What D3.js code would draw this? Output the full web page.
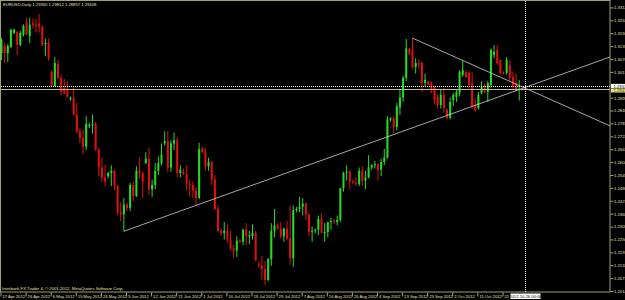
<!DOCTYPE html>
<html>
<head>
<meta charset="utf-8">
<script src="https://cdn.jsdelivr.net/npm/d3@7"></script>
<style>
  html, body { margin: 0; padding: 0; background: #000; overflow: hidden; }
  svg { display: block; }
  .axis text { font-family: "Liberation Sans", Arial, sans-serif; font-size: 4.2px; fill: #e0e0a8; }
  .axis line { stroke: #a8a878; }
  .lbl { font-family: "Liberation Sans", Arial, sans-serif; font-size: 4.2px; }
</style>
</head>
<body>
<svg id="CHART" width="625" height="300"></svg>
<script>
let d3 = window.d3;

// EURUSD daily bars, 17 Apr 2012 .. 26 Oct 2012 (broker has sunday bars)
const opens = [
  1.3104, 1.3135, 1.3104, 1.3132, 1.3196, 1.3200, 1.3141, 1.3187, 1.3245, 1.3182,
  1.3240, 1.3233, 1.3238, 1.3225, 1.3145, 1.3150, 1.3017, 1.2953, 1.3054, 1.2990,
  1.2944, 1.2935, 1.2894, 1.2898, 1.2820, 1.2745, 1.2715, 1.2675, 1.2770, 1.2775,
  1.2780, 1.2660, 1.2580, 1.2535, 1.2540, 1.2555, 1.2565, 1.2495, 1.2375, 1.2365,
  1.2410, 1.2395, 1.2500, 1.2450, 1.2565, 1.2555, 1.2600, 1.2620, 1.2480, 1.2500,
  1.2565, 1.2600, 1.2690, 1.2700, 1.2580, 1.2690, 1.2705, 1.2555, 1.2560, 1.2550,
  1.2505, 1.2500, 1.2475, 1.2440, 1.2665, 1.2650, 1.2585, 1.2605, 1.2525, 1.2390,
  1.2290, 1.2280, 1.2290, 1.2250, 1.2210, 1.2200, 1.2245, 1.2240, 1.2295, 1.2265,
  1.2265, 1.2280, 1.2135, 1.2130, 1.2115, 1.2065, 1.2160, 1.2290, 1.2315, 1.2300,
  1.2265, 1.2300, 1.2255, 1.2165, 1.2385, 1.2390, 1.2400, 1.2415, 1.2365, 1.2285,
  1.2290, 1.2295, 1.2345, 1.2280, 1.2285, 1.2330, 1.2335, 1.2330, 1.2340, 1.2485,
  1.2555, 1.2560, 1.2515, 1.2510, 1.2505, 1.2565, 1.2520, 1.2535, 1.2580, 1.2590,
  1.2595, 1.2570, 1.2605, 1.2625, 1.2800, 1.2805, 1.2765, 1.2855, 1.2900, 1.2990,
  1.3123, 1.3118, 1.3040, 1.3058, 1.3058, 1.2967, 1.2971, 1.2967, 1.2949, 1.2903,
  1.2866, 1.2912, 1.2843, 1.2807, 1.2889, 1.2903, 1.2921, 1.3004, 1.3017, 1.3013,
  1.2967, 1.2866, 1.2852, 1.2921, 1.2958, 1.2926, 1.2958, 1.3095, 1.3118, 1.3072,
  1.3013, 1.3013, 1.3050, 1.2994, 1.2967, 1.2935
];
const highs = [
  1.3173, 1.3150, 1.3145, 1.3215, 1.3215, 1.3205, 1.3205, 1.3235, 1.3265, 1.3265,
  1.3262, 1.3262, 1.3283, 1.3230, 1.3170, 1.3170, 1.3025, 1.3085, 1.3073, 1.3005,
  1.2985, 1.2975, 1.2905, 1.2950, 1.2875, 1.2760, 1.2752, 1.2815, 1.2785, 1.2823,
  1.2790, 1.2670, 1.2625, 1.2592, 1.2560, 1.2590, 1.2570, 1.2500, 1.2420, 1.2440,
  1.2420, 1.2510, 1.2515, 1.2585, 1.2625, 1.2560, 1.2650, 1.2670, 1.2525, 1.2600,
  1.2630, 1.2690, 1.2745, 1.2747, 1.2705, 1.2740, 1.2720, 1.2590, 1.2575, 1.2590,
  1.2525, 1.2515, 1.2490, 1.2693, 1.2675, 1.2670, 1.2625, 1.2610, 1.2545, 1.2405,
  1.2300, 1.2330, 1.2320, 1.2290, 1.2225, 1.2265, 1.2255, 1.2300, 1.2325, 1.2290,
  1.2320, 1.2290, 1.2150, 1.2175, 1.2150, 1.2166, 1.2325, 1.2390, 1.2325, 1.2330,
  1.2305, 1.2335, 1.2405, 1.2405, 1.2400, 1.2445, 1.2440, 1.2420, 1.2370, 1.2310,
  1.2300, 1.2360, 1.2370, 1.2325, 1.2330, 1.2350, 1.2345, 1.2360, 1.2485, 1.2560,
  1.2590, 1.2570, 1.2525, 1.2535, 1.2580, 1.2585, 1.2565, 1.2636, 1.2595, 1.2610,
  1.2600, 1.2620, 1.2665, 1.2815, 1.2810, 1.2815, 1.2875, 1.2935, 1.3000, 1.3168,
  1.3128, 1.3172, 1.3080, 1.3075, 1.3065, 1.3010, 1.2978, 1.2975, 1.2955, 1.2915,
  1.2935, 1.2945, 1.2850, 1.2900, 1.2920, 1.2935, 1.3025, 1.3070, 1.3025, 1.3020,
  1.3015, 1.2895, 1.2925, 1.2975, 1.2962, 1.2975, 1.3125, 1.3140, 1.3140, 1.3075,
  1.3020, 1.3085, 1.3070, 1.3020, 1.3010, 1.2981
];
const lows = [
  1.3072, 1.3058, 1.3063, 1.3127, 1.3190, 1.3095, 1.3135, 1.3180, 1.3185, 1.3150,
  1.3215, 1.3200, 1.3197, 1.3135, 1.3090, 1.3068, 1.2950, 1.2950, 1.2985, 1.2912,
  1.2915, 1.2900, 1.2885, 1.2820, 1.2735, 1.2690, 1.2640, 1.2660, 1.2760, 1.2735,
  1.2656, 1.2540, 1.2515, 1.2495, 1.2530, 1.2495, 1.2475, 1.2360, 1.2334, 1.2288,
  1.2380, 1.2380, 1.2425, 1.2445, 1.2530, 1.2440, 1.2595, 1.2455, 1.2445, 1.2480,
  1.2545, 1.2590, 1.2680, 1.2560, 1.2560, 1.2660, 1.2535, 1.2535, 1.2545, 1.2475,
  1.2445, 1.2440, 1.2405, 1.2436, 1.2645, 1.2565, 1.2565, 1.2500, 1.2385, 1.2285,
  1.2270, 1.2250, 1.2235, 1.2200, 1.2165, 1.2170, 1.2235, 1.2225, 1.2225, 1.2230,
  1.2250, 1.2150, 1.2120, 1.2067, 1.2042, 1.2060, 1.2130, 1.2260, 1.2295, 1.2255,
  1.2240, 1.2245, 1.2135, 1.2125, 1.2375, 1.2375, 1.2360, 1.2340, 1.2265, 1.2240,
  1.2280, 1.2270, 1.2280, 1.2240, 1.2260, 1.2295, 1.2320, 1.2315, 1.2330, 1.2470,
  1.2520, 1.2480, 1.2505, 1.2495, 1.2495, 1.2495, 1.2480, 1.2530, 1.2570, 1.2575,
  1.2520, 1.2540, 1.2590, 1.2620, 1.2790, 1.2740, 1.2750, 1.2820, 1.2880, 1.2975,
  1.3095, 1.3030, 1.3010, 1.3030, 1.2925, 1.2950, 1.2955, 1.2920, 1.2870, 1.2850,
  1.2850, 1.2829, 1.2800, 1.2800, 1.2860, 1.2880, 1.2905, 1.2995, 1.2990, 1.2945,
  1.2850, 1.2835, 1.2845, 1.2915, 1.2920, 1.2880, 1.2945, 1.3080, 1.3050, 1.3005,
  1.3005, 1.3005, 1.2975, 1.2940, 1.2925, 1.2886
];
const closes = [
  1.3164, 1.3104, 1.3136, 1.3210, 1.3210, 1.3141, 1.3196, 1.3228, 1.3190, 1.3233,
  1.3232, 1.3228, 1.3225, 1.3141, 1.3150, 1.3080, 1.2953, 1.3058, 1.2990, 1.2926,
  1.2921, 1.2903, 1.2898, 1.2820, 1.2745, 1.2715, 1.2675, 1.2780, 1.2775, 1.2780,
  1.2660, 1.2580, 1.2535, 1.2515, 1.2555, 1.2565, 1.2495, 1.2375, 1.2365, 1.2410,
  1.2395, 1.2500, 1.2450, 1.2565, 1.2555, 1.2515, 1.2620, 1.2480, 1.2500, 1.2565,
  1.2600, 1.2640, 1.2700, 1.2580, 1.2690, 1.2705, 1.2555, 1.2570, 1.2550, 1.2505,
  1.2500, 1.2475, 1.2440, 1.2665, 1.2650, 1.2585, 1.2605, 1.2525, 1.2390, 1.2290,
  1.2280, 1.2290, 1.2250, 1.2210, 1.2200, 1.2245, 1.2240, 1.2295, 1.2265, 1.2270,
  1.2280, 1.2155, 1.2130, 1.2115, 1.2065, 1.2160, 1.2290, 1.2315, 1.2300, 1.2265,
  1.2300, 1.2255, 1.2165, 1.2385, 1.2390, 1.2400, 1.2415, 1.2365, 1.2285, 1.2290,
  1.2295, 1.2345, 1.2280, 1.2285, 1.2330, 1.2335, 1.2330, 1.2340, 1.2485, 1.2555,
  1.2560, 1.2515, 1.2510, 1.2505, 1.2565, 1.2520, 1.2535, 1.2580, 1.2590, 1.2595,
  1.2570, 1.2605, 1.2625, 1.2800, 1.2805, 1.2765, 1.2860, 1.2900, 1.2990, 1.3125,
  1.3100, 1.3040, 1.3058, 1.3050, 1.2967, 1.2981, 1.2958, 1.2935, 1.2889, 1.2866,
  1.2912, 1.2852, 1.2807, 1.2880, 1.2912, 1.2926, 1.3017, 1.3026, 1.2994, 1.2958,
  1.2857, 1.2843, 1.2912, 1.2949, 1.2926, 1.2967, 1.3118, 1.3109, 1.3058, 1.3013,
  1.3010, 1.3072, 1.2990, 1.2949, 1.2935, 1.2941
];

// time axis labels (bar index, text)
const dateIdx = [0, 8, 16, 24, 32, 40, 48, 56, 64, 72, 80, 88, 96, 104, 112, 120, 128, 136, 144, 152, 160];
const dateLabels = [
  "17 Apr 2012", "26 Apr 2012", "6 May 2012", "15 May 2012", "24 May 2012", "3 Jun 2012",
  "12 Jun 2012", "21 Jun 2012", "1 Jul 2012", "10 Jul 2012", "19 Jul 2012", "29 Jul 2012",
  "7 Aug 2012", "16 Aug 2012", "26 Aug 2012", "4 Sep 2012", "13 Sep 2012", "23 Sep 2012",
  "2 Oct 2012", "11 Oct 2012", "21 Oct 2012"
];

// price scale labels
const priceTicks = [
  1.20145, 1.20735, 1.21325, 1.21915, 1.22505, 1.23095, 1.23685, 1.24275, 1.24865, 1.25455,
  1.26045, 1.26635, 1.27225, 1.27815, 1.28405, 1.28995, 1.29585, 1.30175, 1.30765, 1.31355,
  1.31945, 1.32535, 1.33125
];

// trend lines drawn on the chart: [bar, price] -> [bar, price]
const trendStart = [[39, 1.2288], [131, 1.3172]];
const trendEnd = [[194, 1.3086], [194, 1.2770]];

const crossIdx = 166.7, crossPrice = 1.29535;
const crossDate = "2012.10.26 00:00";
const title = "EURUSD,Daily  1.29350 1.29812 1.28857 1.29408";
const copyright = "Interbank FX Trader 4, \u00a9 2001-2012, MetaQuotes Software Corp.";

const PLOT = { LEFT: 1, RIGHT: 610, TOP: 1, BOTTOM: 292 };
const FRAME = "#a0a070", TEXT = "#e0e0a8";
const UP = "#22dd22", DOWN = "#e01010";

let svg = d3.select("#CHART");
svg.append("rect").attr("width", 625).attr("height", 300).attr("fill", "#000");

let xScale = d3.scaleLinear().domain([0, 160]).range([1.5, 503.5]);
let yScale = d3.scaleLinear().domain([1.2010, 1.3342]).range([PLOT.BOTTOM, PLOT.TOP]);

svg.append("clipPath").attr("id", "plotClip")
  .append("rect")
  .attr("x", PLOT.LEFT).attr("y", PLOT.TOP)
  .attr("width", PLOT.RIGHT - PLOT.LEFT).attr("height", PLOT.BOTTOM - PLOT.TOP);

let plot = svg.append("g").attr("clip-path", "url(#plotClip)");

// candles
let bars = d3.range(opens.length);
let candle = plot.selectAll("g.bar").data(bars).enter().append("g").attr("class", "bar");

candle.append("line")
  .attr("x1", (i) => xScale(i)).attr("x2", (i) => xScale(i))
  .attr("y1", (i) => yScale(highs[i])).attr("y2", (i) => yScale(lows[i]))
  .attr("stroke", (i) => (closes[i] >= opens[i] ? UP : DOWN))
  .attr("stroke-width", 1);

candle.append("rect")
  .attr("x", (i) => xScale(i) - 1)
  .attr("width", 2)
  .attr("y", (i) => yScale(Math.max(opens[i], closes[i])))
  .attr("height", (i) => Math.max(1, Math.abs(yScale(opens[i]) - yScale(closes[i]))))
  .attr("fill", (i) => (closes[i] >= opens[i] ? UP : DOWN));

// trend lines
plot.selectAll("line.trend").data(trendStart).enter().append("line")
  .attr("class", "trend")
  .attr("x1", (d) => xScale(d[0])).attr("y1", (d) => yScale(d[1]))
  .attr("x2", (d, k) => xScale(trendEnd[k][0])).attr("y2", (d, k) => yScale(trendEnd[k][1]))
  .attr("stroke", "#d0d0d0").attr("stroke-width", 0.8);

// bid line
let lastClose = closes[closes.length - 1];
plot.append("line")
  .attr("x1", PLOT.LEFT).attr("x2", PLOT.RIGHT)
  .attr("y1", Math.round(yScale(lastClose)) + 0.5).attr("y2", Math.round(yScale(lastClose)) + 0.5)
  .attr("stroke", "#c0c094").attr("stroke-width", 1);

// crosshair
let cy = Math.round(yScale(crossPrice)) + 0.5, cx = Math.round(xScale(crossIdx)) + 0.5;
plot.append("line")
  .attr("x1", PLOT.LEFT).attr("x2", PLOT.RIGHT).attr("y1", cy).attr("y2", cy)
  .attr("stroke", "#fff").attr("stroke-dasharray", "1,1");
plot.append("line")
  .attr("x1", cx).attr("x2", cx).attr("y1", PLOT.TOP).attr("y2", PLOT.BOTTOM)
  .attr("stroke", "#fff").attr("stroke-dasharray", "1,1");

// frame
svg.append("rect")
  .attr("x", PLOT.LEFT - 0.5).attr("y", PLOT.TOP - 0.5)
  .attr("width", PLOT.RIGHT - PLOT.LEFT + 0.5).attr("height", PLOT.BOTTOM - PLOT.TOP + 0.5)
  .attr("fill", "none").attr("stroke", FRAME).attr("stroke-width", 1);

// price axis
let yAxis = d3.axisRight(yScale).tickValues(priceTicks).tickSize(3).tickFormat(d3.format(".5f"));
let yg = svg.append("g").attr("class", "axis")
  .attr("transform", "translate(" + (PLOT.RIGHT + 0.5) + ",0)")
  .call(yAxis);
yg.select(".domain").remove();
yg.selectAll(".tick text").attr("x", 3.5);

// time axis
let xAxis = d3.axisBottom(xScale).tickValues(dateIdx).tickSize(4)
  .tickFormat((d, i) => dateLabels[i]);
let xg = svg.append("g").attr("class", "axis")
  .attr("transform", "translate(0," + (PLOT.BOTTOM + 0.5) + ")")
  .call(xAxis);
xg.select(".domain").remove();
xg.selectAll(".tick line").attr("transform", "translate(-1,0)");
xg.selectAll(".tick text").attr("text-anchor", "start").attr("x", 0.5).attr("y", 2.2);

// price boxes on the scale
svg.append("rect").attr("x", PLOT.RIGHT + 1).attr("y", cy - 2.6).attr("width", 16).attr("height", 4.4).attr("fill", "#fff");
svg.append("text").attr("class", "lbl").attr("x", PLOT.RIGHT + 3.5).attr("y", cy + 1.3)
  .attr("fill", "#000").text(d3.format(".5f")(crossPrice));
let by = Math.round(yScale(lastClose)) + 0.5;
svg.append("rect").attr("x", PLOT.RIGHT + 1).attr("y", by - 0.8).attr("width", 16).attr("height", 3.8).attr("fill", "#e6e67a");
svg.append("text").attr("class", "lbl").attr("x", PLOT.RIGHT + 3.5).attr("y", by + 2.6)
  .attr("fill", "#303010").text(d3.format(".5f")(lastClose));

// date box under the crosshair
svg.append("rect").attr("x", cx - 15).attr("y", PLOT.BOTTOM + 1.5).attr("width", 30).attr("height", 5.5).attr("fill", "#fff");
svg.append("text").attr("class", "lbl").attr("x", cx).attr("y", PLOT.BOTTOM + 5.8)
  .attr("text-anchor", "middle").attr("fill", "#000").text(crossDate);

// captions
svg.append("text").attr("class", "lbl").attr("x", 3).attr("y", 5.5).attr("fill", TEXT).text(title);
svg.append("text").attr("class", "lbl").attr("x", 2).attr("y", 290).attr("fill", TEXT).text(copyright);
</script>
</body>
</html>
